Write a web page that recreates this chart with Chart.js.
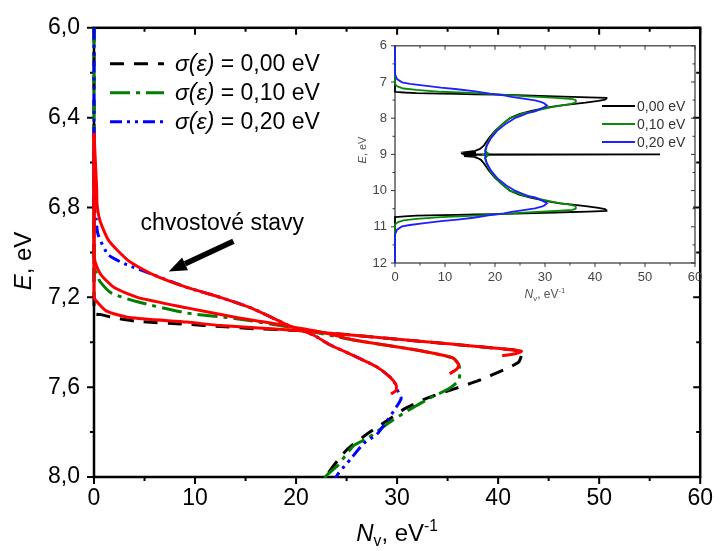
<!DOCTYPE html>
<html>
<head>
<meta charset="utf-8">
<script src="https://cdn.jsdelivr.net/npm/chart.js@4"></script>
<style>
  html, body { margin: 0; padding: 0; background: #fff; }
  #wrap { position: relative; width: 721px; height: 551px; overflow: hidden; }
  #main { position: absolute; left: 0; top: 0; }
  #inset { position: absolute; left: 340px; top: 30px; }
</style>
</head>
<body>
<div id="wrap">
  <canvas id="main" width="721" height="551"></canvas>
  <canvas id="inset" width="370" height="280"></canvas>
</div>
<script>
// Valence-band density of states N_v(E) for three disorder widths sigma(eps)
// Energies E in eV, densities N in 1/eV.

// sigma = 0.00 eV
const E_000 = [6.00, 7.27, 7.277, 7.29, 7.307, 7.32, 7.33, 7.34, 7.348, 7.37, 7.395, 7.422, 7.44, 7.46, 7.49, 7.52, 7.57, 7.61, 7.65, 7.70, 7.75, 7.80, 7.88, 7.99, 8.15, 8.35, 8.55, 8.75, 8.85, 8.90, 8.93, 8.95, 8.97, 8.99, 9.00, 9.00, 9.01, 9.03, 9.05, 9.07, 9.10, 9.15, 9.25, 9.45, 9.65, 9.85, 10.01, 10.12, 10.20, 10.25, 10.30, 10.35, 10.39, 10.43, 10.48, 10.51, 10.54, 10.56, 10.58, 10.605, 10.63, 10.652, 10.66, 10.67, 10.68, 10.693, 10.71, 10.723, 10.73, 12.00];
const N_000 = [0, 0, 0.7, 1.9, 4.3, 9.2, 12.5, 16.0, 20.2, 26.0, 32.0, 38.7, 42.3, 42.3, 42.0, 40.7, 38.1, 35.5, 32.9, 30.6, 29.0, 27.3, 25.0, 23.1, 21.6, 20.0, 18.8, 17.8, 17.0, 16.0, 14.5, 16.2, 13.2, 15.5, 13.5, 53.0, 14.0, 16.3, 13.8, 15.8, 16.5, 17.2, 17.8, 18.8, 20.0, 21.6, 23.1, 25.0, 27.3, 29.0, 30.6, 32.9, 35.5, 38.1, 40.7, 42.0, 42.3, 42.3, 38.7, 32.0, 26.0, 20.2, 16.0, 12.5, 9.2, 4.3, 1.9, 0.7, 0, 0];

// sigma = 0.10 eV
const E_010 = [6.00, 7.06, 7.10, 7.13, 7.18, 7.22, 7.27, 7.295, 7.335, 7.39, 7.437, 7.47, 7.50, 7.52, 7.57, 7.605, 7.65, 7.69, 7.755, 7.83, 7.86, 7.95, 8.00, 8.15, 8.35, 8.55, 8.75, 8.90, 8.97, 9.00, 9.03, 9.10, 9.25, 9.45, 9.65, 9.85, 10.00, 10.05, 10.14, 10.17, 10.245, 10.31, 10.35, 10.395, 10.43, 10.48, 10.50, 10.53, 10.563, 10.61, 10.665, 10.705, 10.73, 10.78, 10.82, 10.87, 10.90, 10.94, 12.00];
const N_010 = [0, 0, 0.3, 0.6, 1.7, 4.3, 9.2, 14.1, 19.6, 25.7, 32.2, 35.5, 36.1, 36.2, 36.1, 35.2, 33.2, 31.6, 29.3, 27.0, 25.7, 24.1, 22.9, 21.6, 20.1, 19.0, 18.3, 18.0, 18.6, 17.8, 18.6, 18.0, 18.3, 19.0, 20.1, 21.6, 22.9, 24.1, 25.7, 27.0, 29.3, 31.6, 33.2, 35.2, 36.1, 36.2, 36.1, 35.5, 32.2, 25.7, 19.6, 14.1, 9.2, 4.3, 1.7, 0.6, 0.3, 0, 0];

// sigma = 0.20 eV
const E_020 = [6.00, 6.78, 6.85, 6.92, 7.01, 7.05, 7.10, 7.156, 7.20, 7.25, 7.32, 7.37, 7.41, 7.46, 7.51, 7.555, 7.59, 7.61, 7.65, 7.69, 7.75, 7.81, 7.85, 7.92, 7.99, 8.15, 8.35, 8.55, 8.75, 8.90, 9.00, 9.10, 9.25, 9.45, 9.65, 9.85, 10.01, 10.08, 10.15, 10.19, 10.25, 10.31, 10.35, 10.39, 10.41, 10.445, 10.49, 10.54, 10.59, 10.63, 10.68, 10.75, 10.80, 10.844, 10.90, 10.95, 10.99, 11.08, 11.15, 11.22, 12.00];
const N_020 = [0, 0, 0.2, 0.4, 1.4, 3.0, 5.9, 9.2, 12.5, 15.7, 19.0, 21.8, 23.3, 25.7, 28.0, 29.3, 29.9, 30.0, 30.4, 29.9, 29.0, 28.0, 26.7, 25.4, 24.1, 22.2, 20.4, 19.2, 18.4, 18.1, 18.0, 18.1, 18.4, 19.2, 20.4, 22.2, 24.1, 25.4, 26.7, 28.0, 29.0, 29.9, 30.4, 30.0, 29.9, 29.3, 28.0, 25.7, 23.3, 21.8, 19.0, 15.7, 12.5, 9.2, 5.9, 3.0, 1.4, 0.4, 0.2, 0, 0];

// tail-state fits near the band edge
const E_fit000 = [6.47, 7.20, 7.21, 7.26, 7.29, 7.31, 7.326, 7.348, 7.37, 7.395, 7.422, 7.44, 7.45, 7.46];
const N_fit000 = [0, 0, 0.1, 1.2, 3.5, 9.2, 12.5, 20.2, 26.0, 32.0, 38.7, 42.3, 41.8, 40.4];
const E_fit010 = [6.47, 7.00, 7.045, 7.10, 7.156, 7.20, 7.247, 7.29, 7.31, 7.335, 7.36, 7.39, 7.437, 7.47, 7.50, 7.52, 7.54];
const N_fit010 = [0, 0, 0.13, 0.7, 2.0, 4.3, 9.2, 14.1, 16.9, 20.0, 23.0, 25.7, 32.2, 35.5, 36.1, 35.9, 35.2];
const E_fit020 = [6.47, 6.71, 6.785, 6.86, 6.95, 7.04, 7.10, 7.156, 7.20, 7.25, 7.32, 7.37, 7.41, 7.46, 7.51, 7.555, 7.59, 7.615, 7.63];
const N_fit020 = [0, 0.26, 0.3, 0.6, 1.5, 3.5, 5.9, 9.2, 12.5, 15.7, 19.0, 21.8, 23.3, 25.7, 28.0, 29.3, 29.9, 29.9, 29.4];

// series labels
const sigmaLabels = ['0,00 eV', '0,10 eV', '0,20 eV'];

// tick values
const mainXTicks = [0, 10, 20, 30, 40, 50, 60];
const mainYTicks = [6.0, 6.4, 6.8, 7.2, 7.6, 8.0];
const insetXTicks = [0, 10, 20, 30, 40, 50, 60];
const insetYTicks = [6, 7, 8, 9, 10, 11, 12];

// annotation text and where it sits (data units: N, E)
const noteText = 'chvostové stavy';
const notePos = { N: 4.6, E: 6.90 };
const arrowFrom = { N: 13.8, E: 6.95 };
const arrowTo = { N: 7.4, E: 7.085 };

const FONT = '"Liberation Sans", Arial, Helvetica, sans-serif';
const COL = { s0: '#000000', s1: '#008000', s2: '#0000ff', fit: '#ff0000' };

function pts(E, N) { return E.map((e, i) => ({ x: N[i], y: e })); }

function withMinor(vals) {
  const out = [];
  for (let i = 0; i < vals.length; i++) {
    out.push({ v: vals[i], major: true });
    if (i < vals.length - 1) out.push({ v: (vals[i] + vals[i + 1]) / 2, major: false });
  }
  return out;
}

function runsWidth(ctx, runs, size) {
  let w = 0;
  for (const r of runs) {
    ctx.font = (r.italic ? 'italic ' : '') + (size * (r.scale || 1)) + 'px ' + FONT;
    w += ctx.measureText(r.t).width;
  }
  return w;
}

function drawRuns(ctx, runs, x, y, size, color) {
  let cx = x;
  ctx.fillStyle = color;
  for (const r of runs) {
    ctx.font = (r.italic ? 'italic ' : '') + (size * (r.scale || 1)) + 'px ' + FONT;
    ctx.fillText(r.t, cx, y + (r.dy || 0) * size);
    cx += ctx.measureText(r.t).width;
  }
  return cx - x;
}

function drawFrame(chart, o) {
  const { ctx, chartArea: a } = chart;
  const xs = chart.scales.x, ys = chart.scales.y;
  ctx.save();
  ctx.strokeStyle = o.color;
  ctx.lineWidth = o.tickWidth;
  ctx.beginPath();
  for (const t of withMinor(xs.ticks.map(t => t.value))) {
    const p = xs.getPixelForValue(t.v);
    const L = t.major ? o.major : o.minor;
    ctx.moveTo(p, a.bottom); ctx.lineTo(p, a.bottom + L);
    ctx.moveTo(p, a.top); ctx.lineTo(p, a.top + L);
  }
  for (const t of withMinor(ys.ticks.map(t => t.value))) {
    const p = ys.getPixelForValue(t.v);
    const L = t.major ? o.major : o.minor;
    ctx.moveTo(a.left - L, p); ctx.lineTo(a.left, p);
    ctx.moveTo(a.right, p); ctx.lineTo(a.right - L, p);
  }
  ctx.stroke();
  ctx.lineWidth = o.frameWidth;
  ctx.strokeStyle = o.frameColor || o.color;
  ctx.strokeRect(a.left, a.top, a.right - a.left, a.bottom - a.top);
  ctx.restore();
}

function lineDataset(E, N, color, width, dash, order) {
  return {
    data: pts(E, N),
    showLine: true,
    borderColor: color,
    borderWidth: width,
    borderDash: dash || [],
    pointRadius: 0,
    fill: false,
    tension: 0.2,
    order: order,
    clip: { left: 4, top: 2, right: 0, bottom: 1 }
  };
}

// ---------- main plot ----------
const mainDecor = {
  id: 'mainDecor',
  beforeDatasetsDraw(chart) {
    drawFrame(chart, { color: '#000', tickWidth: 2, major: 7, minor: 4, frameWidth: 2.5 });
  },
  afterDraw(chart) {
    const { ctx, chartArea: a } = chart;
    const xs = chart.scales.x, ys = chart.scales.y;
    ctx.save();
    ctx.textBaseline = 'alphabetic';

    // legend
    const styles = [
      { c: COL.s0, d: [14, 10] },
      { c: COL.s1, d: [20, 6, 4, 6] },
      { c: COL.s2, d: [12, 5, 3, 5, 3, 5] }
    ];
    styles.forEach((s, i) => {
      const yy = a.top + 36 + i * 29;
      ctx.strokeStyle = s.c;
      ctx.lineWidth = 3;
      ctx.setLineDash(s.d);
      ctx.beginPath();
      ctx.moveTo(a.left + 16, yy);
      ctx.lineTo(a.left + 70, yy);
      ctx.stroke();
      ctx.setLineDash([]);
      ctx.textBaseline = 'middle';
      drawRuns(ctx, [{ t: 'σ(ε)', italic: true }, { t: ' = ' + sigmaLabels[i] }], a.left + 81, yy + 1, 23, '#000');
    });

    // annotation
    ctx.textBaseline = 'alphabetic';
    ctx.font = '23px ' + FONT;
    ctx.fillStyle = '#000';
    ctx.fillText(noteText, xs.getPixelForValue(notePos.N), ys.getPixelForValue(notePos.E));

    const x0 = xs.getPixelForValue(arrowFrom.N), y0 = ys.getPixelForValue(arrowFrom.E);
    const x1 = xs.getPixelForValue(arrowTo.N), y1 = ys.getPixelForValue(arrowTo.E);
    const ang = Math.atan2(y1 - y0, x1 - x0);
    const head = 18, hw = 7;
    const bx = x1 - head * Math.cos(ang), by = y1 - head * Math.sin(ang);
    ctx.strokeStyle = '#000';
    ctx.lineWidth = 5.5;
    ctx.lineCap = 'butt';
    ctx.beginPath();
    ctx.moveTo(x0, y0);
    ctx.lineTo(bx, by);
    ctx.stroke();
    ctx.beginPath();
    ctx.moveTo(x1, y1);
    ctx.lineTo(bx + hw * Math.sin(ang), by - hw * Math.cos(ang));
    ctx.lineTo(bx - hw * Math.sin(ang), by + hw * Math.cos(ang));
    ctx.closePath();
    ctx.fill();

    // axis titles
    const xt = [{ t: 'N', italic: true }, { t: 'v', scale: 0.65, dy: 0.22 }, { t: ', eV' }, { t: '-1', scale: 0.65, dy: -0.4 }];
    const xw = runsWidth(ctx, xt, 24);
    drawRuns(ctx, xt, (a.left + a.right) / 2 - xw / 2, 541, 24, '#000');

    const yt = [{ t: 'E', italic: true }, { t: ', eV' }];
    const yw = runsWidth(ctx, yt, 24);
    ctx.translate(24, 261);
    ctx.rotate(-Math.PI / 2);
    ctx.textBaseline = 'middle';
    drawRuns(ctx, yt, -yw / 2, 0, 24, '#000');
    ctx.restore();
  }
};

new Chart(document.getElementById('main'), {
  type: 'scatter',
  data: {
    datasets: [
      lineDataset(E_fit000, N_fit000, COL.fit, 3, null, 0),
      lineDataset(E_fit010, N_fit010, COL.fit, 3, null, 0),
      lineDataset(E_fit020, N_fit020, COL.fit, 3, null, 0),
      lineDataset(E_020, N_020, COL.s2, 3, [12, 5, 3, 5, 3, 5], 1),
      lineDataset(E_010, N_010, COL.s1, 3, [20, 6, 4, 6], 2),
      lineDataset(E_000, N_000, COL.s0, 3, [14, 10], 3)
    ]
  },
  options: {
    responsive: false,
    animation: false,
    events: [],
    layout: { padding: { left: 0, top: 26, right: 14, bottom: 0 } },
    plugins: { legend: { display: false }, tooltip: { enabled: false } },
    scales: {
      x: {
        type: 'linear', min: 0, max: 60,
        afterBuildTicks: s => { s.ticks = mainXTicks.map(v => ({ value: v })); },
        afterFit: s => { s.height = 74; },
        ticks: { color: '#000', padding: 8, font: { family: FONT, size: 23 }, callback: v => String(v) },
        grid: { display: false, drawTicks: false },
        border: { display: false }
      },
      y: {
        type: 'linear', min: 6, max: 8, reverse: true,
        afterBuildTicks: s => { s.ticks = mainYTicks.map(v => ({ value: v })); },
        afterFit: s => { s.width = 94; },
        ticks: { color: '#000', padding: 14, font: { family: FONT, size: 23 }, callback: v => v.toFixed(1).replace('.', ',') },
        grid: { display: false, drawTicks: false },
        border: { display: false }
      }
    }
  },
  plugins: [mainDecor]
});

// ---------- inset: whole band ----------
const insetDecor = {
  id: 'insetDecor',
  beforeDatasetsDraw(chart) {
    drawFrame(chart, { color: '#333', tickWidth: 1, major: 4, minor: 2.5, frameWidth: 1.2 });
  },
  afterDraw(chart) {
    const { ctx, chartArea: a } = chart;
    ctx.save();
    const cols = [COL.s0, '#0a8a0a', '#1f1fff'];
    cols.forEach((c, i) => {
      const yy = 76 + i * 18;
      ctx.strokeStyle = c;
      ctx.lineWidth = 2;
      ctx.beginPath();
      ctx.moveTo(262, yy);
      ctx.lineTo(295, yy);
      ctx.stroke();
      ctx.textBaseline = 'middle';
      ctx.font = '14px ' + FONT;
      ctx.fillStyle = '#333';
      ctx.fillText(sigmaLabels[i], 297, yy + 1);
    });

    ctx.textBaseline = 'alphabetic';
    const xt = [{ t: 'N', italic: true }, { t: 'v', scale: 0.65, dy: 0.22 }, { t: ', eV' }, { t: '-1', scale: 0.65, dy: -0.4 }];
    const xw = runsWidth(ctx, xt, 12);
    drawRuns(ctx, xt, (a.left + a.right) / 2 - xw / 2, 268, 12, '#555');

    const yt = [{ t: 'E', italic: true }, { t: ', eV' }];
    const yw = runsWidth(ctx, yt, 11);
    ctx.translate(23, 120);
    ctx.rotate(-Math.PI / 2);
    ctx.textBaseline = 'middle';
    drawRuns(ctx, yt, -yw / 2, 0, 11, '#555');
    ctx.restore();
  }
};

function insetDataset(E, N, color, order) {
  return {
    data: pts(E, N),
    showLine: true,
    borderColor: color,
    borderWidth: 1.8,
    pointRadius: 0,
    fill: false,
    tension: 0,
    order: order,
    clip: { left: 2, top: 1, right: 1, bottom: 1 }
  };
}

new Chart(document.getElementById('inset'), {
  type: 'scatter',
  data: {
    datasets: [
      insetDataset(E_020, N_020, '#1f1fff', 0),
      insetDataset(E_010, N_010, '#0a8a0a', 1),
      insetDataset(E_000, N_000, COL.s0, 2)
    ]
  },
  options: {
    responsive: false,
    animation: false,
    events: [],
    layout: { padding: { left: 0, top: 9, right: 15, bottom: 0 } },
    plugins: { legend: { display: false }, tooltip: { enabled: false } },
    scales: {
      x: {
        type: 'linear', min: 0, max: 60,
        afterBuildTicks: s => { s.ticks = insetXTicks.map(v => ({ value: v })); },
        afterFit: s => { s.height = 47; },
        ticks: { color: '#444', padding: 7, font: { family: FONT, size: 13 }, callback: v => String(v) },
        grid: { display: false, drawTicks: false },
        border: { display: false }
      },
      y: {
        type: 'linear', min: 6, max: 12, reverse: true,
        afterBuildTicks: s => { s.ticks = insetYTicks.map(v => ({ value: v })); },
        afterFit: s => { s.width = 55; },
        ticks: { color: '#444', padding: 8, font: { family: FONT, size: 13 }, callback: v => String(v) },
        grid: { display: false, drawTicks: false },
        border: { display: false }
      }
    }
  },
  plugins: [insetDecor]
});
</script>
</body>
</html>
